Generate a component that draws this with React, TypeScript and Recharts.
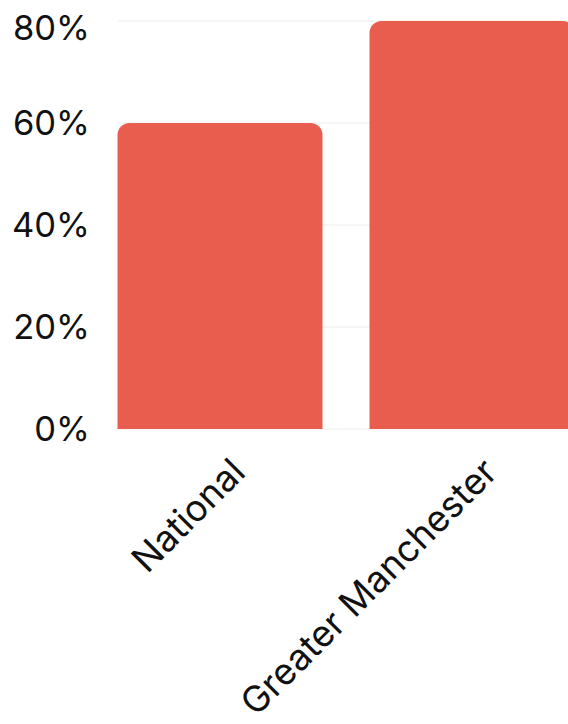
import React from 'react';
import { BarChart, Bar, XAxis, YAxis, CartesianGrid } from 'recharts';

const categories = ['National', 'Greater Manchester'];
const values = [0.6, 0.8];
const yTicks = [0, 0.2, 0.4, 0.6, 0.8];

const data = categories.map((name, i) => ({ name, value: values[i] }));

const FONT = 'Inter, "Noto Sans", sans-serif';

export default function App() {
  return (
    <div style={{ width: 560, height: 708, overflow: 'hidden', position: 'relative' }}>
      <style>{'html,body{overflow:hidden;} body{margin-right:0;}'}</style>
      <BarChart
        width={590}
        height={708}
        data={data}
        margin={{ top: 13, right: 0, bottom: 0, left: 0 }}
        barCategoryGap={23.5}
      >
        <CartesianGrid vertical={false} stroke="#ececec" x={110} width={480} />
        <YAxis
          type="number"
          domain={[0, 0.8]}
          ticks={yTicks}
          width={86}
          axisLine={false}
          tickLine={false}
          tickSize={0}
          tickMargin={4}
          tickFormatter={(v: number) => `${Math.round(v * 100)}%`}
          tick={{ fill: '#111', fontSize: 34.5, fontFamily: FONT }}
        />
        <XAxis
          dataKey="name"
          height={287}
          axisLine={false}
          tickLine={false}
          tickSize={0}
          tickMargin={27}
          interval={0}
          tick={{ fill: '#111', fontSize: 36.5, fontFamily: FONT, angle: -45, textAnchor: 'end', dx: 9 }}
        />
        <Bar dataKey="value" fill="#E95D4F" radius={[12, 12, 0, 0]} isAnimationActive={false} />
      </BarChart>
    </div>
  );
}
